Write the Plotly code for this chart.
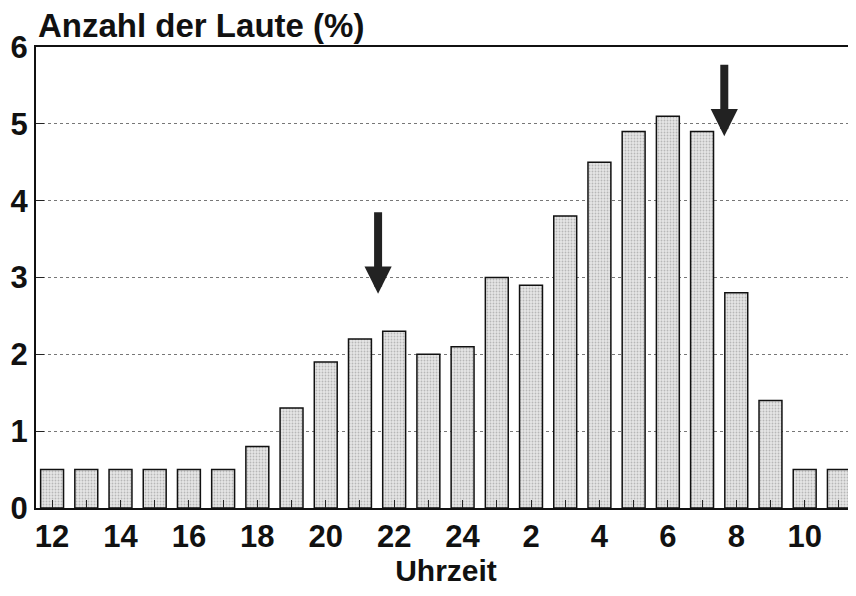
import plotly.graph_objects as go

hours = [12, 13, 14, 15, 16, 17, 18, 19, 20, 21, 22, 23, 24,
         1, 2, 3, 4, 5, 6, 7, 8, 9, 10, 11]
values = [0.5, 0.5, 0.5, 0.5, 0.5, 0.5, 0.8, 1.3, 1.9, 2.2, 2.3, 2.0, 2.1,
          3.0, 2.9, 3.8, 4.5, 4.9, 5.1, 4.9, 2.8, 1.4, 0.5, 0.5]
tick_labels = [str(h) if i % 2 == 0 else "" for i, h in enumerate(hours)]

# arrows: x position (bar index units), start value, tip value
arrow_x = [9.53, 19.65]
arrow_top = [3.87, 5.79]
arrow_tip = [2.79, 4.84]

xs = list(range(len(hours)))

fig = go.Figure(go.Bar(
    x=xs, y=values, width=0.67,
    marker=dict(color="#dadada",
                line=dict(color="#111", width=1.5),
                pattern=dict(shape=".", fgcolor="#888", bgcolor="#e6e6e6",
                             size=3, solidity=0.3)),
))

font = "Liberation Sans, Arial, Helvetica, sans-serif"
for x, t, p in zip(arrow_x, arrow_top, arrow_tip):
    fig.add_annotation(x=x, y=p, ax=x, ay=t, xref="x", yref="y",
                       axref="x", ayref="y", text="", showarrow=True,
                       arrowhead=2, arrowsize=0.68, arrowwidth=8,
                       arrowcolor="#222")

fig.update_layout(
    width=848, height=588,
    margin=dict(l=28, r=0, t=39, b=88),
    paper_bgcolor="white", plot_bgcolor="white",
    showlegend=False, bargap=0.33,
    font=dict(family=font, color="#111"),
    title=dict(text="<b>Anzahl der Laute (%)</b>", x=0.0354, xanchor="left",
               y=0.951, yanchor="bottom", font=dict(size=33, family=font, color="#111")),
)
fig.update_xaxes(
    range=[-0.47, 23.5], tickvals=xs, ticktext=tick_labels,
    ticks="inside", ticklen=8, tickcolor="#222", tickwidth=1,
    showline=True, linecolor="#111", linewidth=2, mirror=True,
    showgrid=False, zeroline=False, automargin=False,
    tickfont=dict(size=31, family=font, color="#111", weight="bold"),
    title=dict(text="<b>Uhrzeit</b>", font=dict(size=30, family=font, color="#111"),
               standoff=4),
)
fig.update_yaxes(
    range=[0, 6], dtick=1, ticks="inside", ticklen=8, tickcolor="#222",
    showline=True, linecolor="#111", linewidth=2, automargin=False,
    showgrid=True, gridcolor="#777", gridwidth=1, griddash="dot",
    zeroline=False,
    tickfont=dict(size=31, family=font, color="#111", weight="bold"),
)

fig.write_html("out.html")
